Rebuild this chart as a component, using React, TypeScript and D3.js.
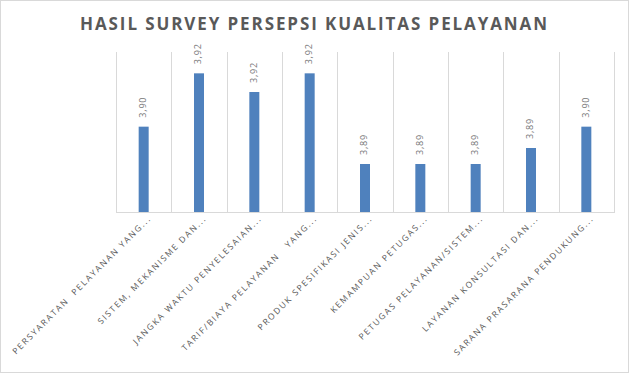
import { useMemo } from 'react';
import * as d3 from 'd3';

const categories = [
  'PERSYARATAN  PELAYANAN YANG...',
  'SISTEM, MEKANISME DAN...',
  'JANGKA WAKTU PENYELESAIAN...',
  'TARIF/BIAYA PELAYANAN   YANG...',
  'PRODUK SPESIFIKASI JENIS...',
  'KEMAMPUAN PETUGAS...',
  'PETUGAS PELAYANAN/SISTEM...',
  'LAYANAN KONSULTASI DAN...',
  'SARANA PRASARANA PENDUKUNG...',
];

const values = [3.902, 3.922, 3.915, 3.922, 3.888, 3.888, 3.888, 3.894, 3.902];

const yDomain = [3.87, 3.93];

const WIDTH = 630;
const HEIGHT = 374;
const PLOT = { left: 116, right: 614, top: 52, bottom: 212 };
const BAR_WIDTH = 10;

const TEXT_COLOR = '#595959';
const GRID_COLOR = '#d9d9d9';
const BAR_COLOR = '#4f81bd';

const fmt = d3.format('.2f');

export default function App() {
  const x = useMemo(
    () => d3.scaleBand<string>().domain(categories).range([PLOT.left, PLOT.right]).padding(0),
    [],
  );
  const y = useMemo(
    () => d3.scaleLinear().domain(yDomain).range([PLOT.bottom, PLOT.top]),
    [],
  );

  // gridlines sit on the category boundaries
  const boundaries = [...categories.map((c) => x(c)!), PLOT.right];

  return (
    <div style={{ position: 'absolute', left: 0, top: 0 }}>
      <svg width={WIDTH} height={HEIGHT} style={{ display: 'block', fontFamily: '"Open Sans", sans-serif' }}>
        <rect x={0} y={0} width={WIDTH} height={HEIGHT} fill="#fff" />
        <rect x={0.5} y={0.5} width={628} height={372} fill="none" stroke={GRID_COLOR} />

        <text
          x={314.5}
          y={30}
          textAnchor="middle"
          fontSize={17}
          fontWeight="bold"
          letterSpacing={1.9}
          fill={TEXT_COLOR}
        >
          HASIL SURVEY PERSEPSI KUALITAS PELAYANAN
        </text>

        {boundaries.map((bx, i) => (
          <line
            key={i}
            x1={Math.round(bx) + 0.5}
            x2={Math.round(bx) + 0.5}
            y1={PLOT.top}
            y2={PLOT.bottom}
            stroke={GRID_COLOR}
          />
        ))}
        <line x1={PLOT.left} x2={PLOT.right + 1} y1={PLOT.bottom + 0.5} y2={PLOT.bottom + 0.5} stroke={GRID_COLOR} />

        {categories.map((c, i) => {
          const cx = x(c)! + x.bandwidth() / 2;
          const top = y(values[i]);
          return (
            <g key={c}>
              <rect x={cx - BAR_WIDTH / 2} y={top} width={BAR_WIDTH} height={PLOT.bottom - top} fill={BAR_COLOR} />
              <text
                transform={`translate(${cx},${top - 9}) rotate(-90)`}
                dominantBaseline="middle"
                fontSize={9}
                letterSpacing={0.8}
                fill="#767676"
              >
                {fmt(values[i]).replace('.', ',')}
              </text>
              <text
                transform={`translate(${cx + 8},${PLOT.bottom + 7}) rotate(-45)`}
                textAnchor="end"
                fontSize={8.5}
                letterSpacing={1.7}
                fill={TEXT_COLOR}
                style={{ whiteSpace: 'pre' }}
              >
                {c}
              </text>
            </g>
          );
        })}
      </svg>
    </div>
  );
}
